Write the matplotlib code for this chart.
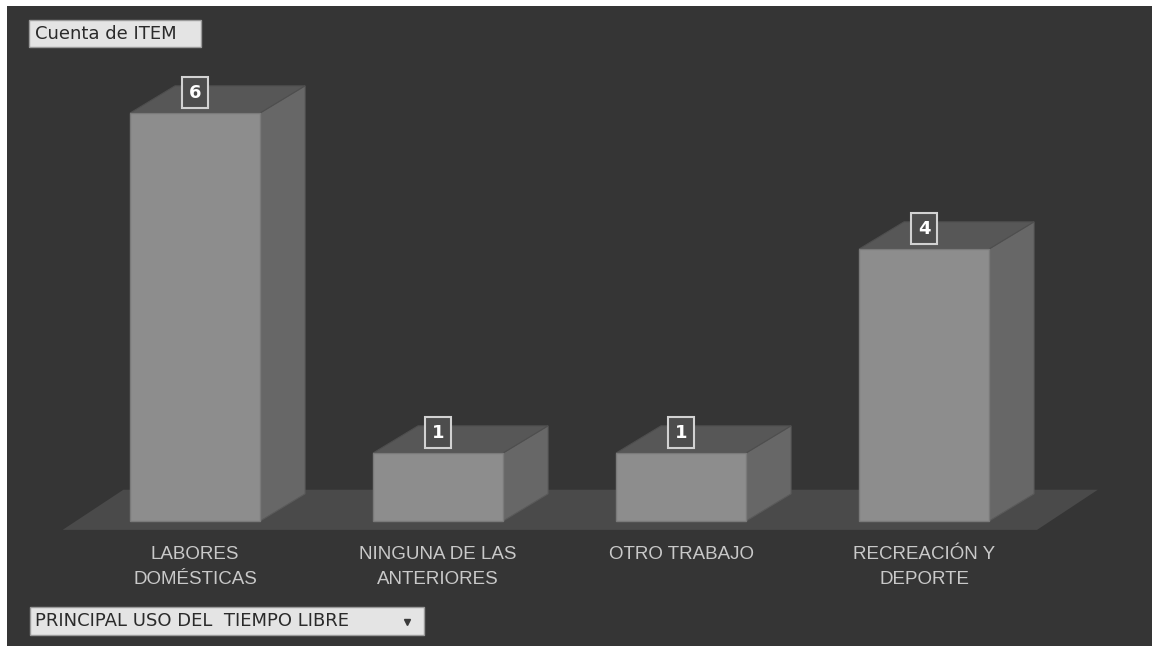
import matplotlib.pyplot as plt
from matplotlib.patches import Polygon, Rectangle

categorias = ["LABORES\nDOMÉSTICAS", "NINGUNA DE LAS\nANTERIORES",
              "OTRO TRABAJO", "RECREACIÓN Y\nDEPORTE"]
cuenta = [6, 1, 1, 4]

campo_valor = "Cuenta de ITEM"
campo_fila = "PRINCIPAL USO DEL  TIEMPO LIBRE"

# colours of the dark pivot-chart theme
fondo = "#353535"
cara_frente = "#8d8d8d"
cara_lado = "#676767"
cara_sup = "#575757"
piso = "#4a4a4a"
texto_eje = "#c9c9c9"

ancho = 0.535      # bar width in category units
prof_x = 0.185     # 3d depth, horizontal
prof_y = 0.40      # 3d depth, vertical (value units)

fig = plt.figure(figsize=(11.59, 6.49), dpi=100, facecolor="white")
ax = fig.add_axes([7 / 1159, 3 / 649, 1145 / 1159, 640 / 649])
ax.set_facecolor(fondo)
ax.set_xlim(-0.774, 3.938)
ax.set_ylim(-1.838, 7.574)
ax.set_xticks([])
ax.set_yticks([])
for s in ax.spines.values():
    s.set_visible(False)

# floor
n = len(cuenta)
fx0, fx1 = -0.545, n - 1 + 0.465
fy0 = -0.13
fdx, fdy = 0.25, 0.59
ax.add_patch(Polygon([(fx0, fy0), (fx1, fy0), (fx1 + fdx, fy0 + fdy),
                      (fx0 + fdx, fy0 + fdy)], closed=True,
                     facecolor=piso, edgecolor="none", zorder=1))

for i, v in enumerate(cuenta):
    x0 = i - ancho / 2
    x1 = i + ancho / 2
    # side face
    ax.add_patch(Polygon([(x1, 0), (x1 + prof_x, prof_y), (x1 + prof_x, v + prof_y),
                          (x1, v)], closed=True, facecolor=cara_lado,
                         edgecolor="#5a5a5a", lw=0.8, zorder=2))
    # top face
    ax.add_patch(Polygon([(x0, v), (x1, v), (x1 + prof_x, v + prof_y),
                          (x0 + prof_x, v + prof_y)], closed=True,
                         facecolor=cara_sup, edgecolor="#4e4e4e", lw=0.8, zorder=2))
    # front face
    ax.add_patch(Rectangle((x0, 0), ancho, v, facecolor=cara_frente,
                           edgecolor="#7a7a7a", lw=1.0, zorder=3))
    # value label
    ax.text(i, v + 0.30, str(v), ha="center", va="center", fontsize=13,
            fontweight="bold", color="white", zorder=5,
            bbox=dict(boxstyle="square,pad=0.36", facecolor="#4d4d4d",
                      edgecolor="#d2d2d2", lw=1.5))
    # category label
    ax.text(i, -0.37, categorias[i], ha="center", va="top", fontsize=13.5,
            color=texto_eje, linespacing=1.6, zorder=5,
            family="Liberation Sans")

# field buttons
ui = fig.add_axes([0, 0, 1, 1], facecolor="none")
ui.set_xlim(0, 1159)
ui.set_ylim(649, 0)
ui.axis("off")
ui.add_patch(Rectangle((29, 20), 172, 27, facecolor="#e4e4e4",
                       edgecolor="#9a9a9a", lw=1.0))
ui.text(35, 34, campo_valor, ha="left", va="center", fontsize=13,
        color="#2a2a2a")
ui.add_patch(Rectangle((30, 607), 394, 28, facecolor="#e4e4e4",
                       edgecolor="#9a9a9a", lw=1.0))
ui.text(35, 621.5, campo_fila, ha="left", va="center", fontsize=13,
        color="#2a2a2a")
ui.plot([407], [622], marker="v", markersize=5, color="#3a3a3a")

fig.savefig("out.png", dpi=100, facecolor="white")
